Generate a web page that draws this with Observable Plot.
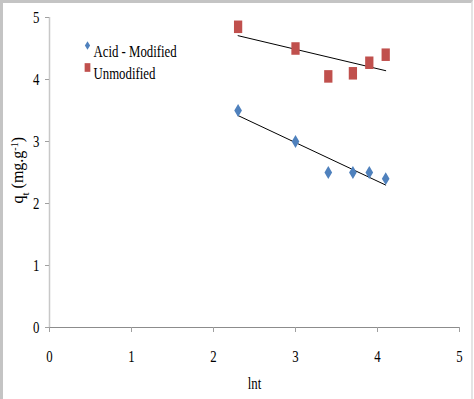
<!DOCTYPE html>
<html>
<head>
<meta charset="utf-8">
<script src="https://cdn.jsdelivr.net/npm/d3@7"></script>
<script src="https://cdn.jsdelivr.net/npm/@observablehq/plot@0.6"></script>
<style>
  html, body { margin: 0; padding: 0; background: #fff; }
  #wrap { position: relative; width: 474px; height: 399px; overflow: hidden; }
  #edge { position: absolute; left: 0; top: 0; width: 473px; height: 399px;
          border-top: 3px solid #c4c4c4; border-left: 3px solid #c4c4c4; border-right: 2px solid #e4e4e4;
          box-sizing: border-box; pointer-events: none; }
  svg, svg text { font-family: "Times New Roman", "Liberation Serif", "DejaVu Serif", serif !important; }
</style>
</head>
<body>
<div id="wrap"><div id="edge"></div></div>
<script>
const lnt = [2.3, 3.0, 3.4, 3.7, 3.9, 4.1];
const acidModified = [3.5, 3.0, 2.5, 2.5, 2.5, 2.4];
const unmodified = [4.85, 4.5, 4.05, 4.1, 4.27, 4.4];
const seriesNames = ["Acid - Modified", "Unmodified"];
const seriesColors = ["#4F81BD", "#C0504D"];
const xTicks = [0, 1, 2, 3, 4, 5];
const yTicks = [0, 1, 2, 3, 4, 5];
const xLabel = "lnt";
const yLabel = "qt (mg.g-1)";

const acidData = lnt.map((x, i) => ({x, y: acidModified[i]}));
const unmodData = lnt.map((x, i) => ({x, y: unmodified[i]}));

// tall diamond and tall rectangle markers (as in the reference)
const tallDiamond = {draw(ctx, size) {
  const h = Math.sqrt(size) * 0.72, w = h * 0.6;
  ctx.moveTo(0, -h); ctx.lineTo(w, 0); ctx.lineTo(0, h); ctx.lineTo(-w, 0); ctx.closePath();
}};
const tallRect = {draw(ctx, size) {
  const h = Math.sqrt(size) * 0.68, w = h * 0.66;
  ctx.rect(-w, -h, 2 * w, 2 * h);
}};

const serif = "'Times New Roman', 'Liberation Serif', serif";

const plot = Plot.plot({
  width: 474,
  height: 399,
  marginLeft: 49,
  marginRight: 15,
  marginTop: 17,
  marginBottom: 72,
  style: {background: "transparent", fontSize: "16px", fontFamily: serif, color: "#000"},
  x: {domain: [0, 5], label: null},
  y: {domain: [0, 5], label: null},
  marks: [
    Plot.ruleX([0], {stroke: "#c8c8c8", strokeWidth: 1.5}),
    Plot.ruleY([0], {stroke: "#8c8c8c", strokeWidth: 1}),
    Plot.axisX({ticks: xTicks, tickSize: 5, tickPadding: 18, stroke: "#a0a0a0", fill: "#000", fontSize: 16, label: null, tickFormat: d => String(d), className: "squeeze"}),
    Plot.axisY({ticks: yTicks, tickSize: 4, stroke: "#a0a0a0", tickPadding: 6, fontSize: 16, fill: "#000", label: null, tickFormat: d => String(d), className: "squeeze"}),
    Plot.linearRegressionY(unmodData, {x: "x", y: "y", stroke: "#000", strokeWidth: 1, ci: 0}),
    Plot.linearRegressionY(acidData, {x: "x", y: "y", stroke: "#000", strokeWidth: 1, ci: 0}),
    Plot.dot(unmodData, {x: "x", y: "y", symbol: tallRect, r: 5.2, fill: seriesColors[1], stroke: "none"}),
    Plot.dot(acidData, {x: "x", y: "y", symbol: tallDiamond, r: 5, fill: seriesColors[0], stroke: "none"}),
    // legend
    Plot.dot([seriesNames[0]], {frameAnchor: "top-left", dx: 38, dy: 28, symbol: tallDiamond, r: 3.4, fill: seriesColors[0], stroke: "none"}),
    Plot.dot([seriesNames[1]], {frameAnchor: "top-left", dx: 38, dy: 50, symbol: tallRect, r: 3.6, fill: seriesColors[1], stroke: "none"}),
    Plot.text([seriesNames[0]], {frameAnchor: "top-left", dx: 44, dy: 28, text: d => d, textAnchor: "start", fontSize: 16, fill: "#000", className: "squeeze"}),
    Plot.text([seriesNames[1]], {frameAnchor: "top-left", dx: 44, dy: 50, text: d => d, textAnchor: "start", fontSize: 16, fill: "#000", className: "squeeze"}),
    // axis titles
    Plot.text([xLabel], {frameAnchor: "bottom", dy: 61, text: d => d, fontSize: 16, fill: "#000", className: "squeeze"}),
    Plot.text([yLabel], {frameAnchor: "left", dx: -32, dy: 31, rotate: -90, text: d => d, fontSize: 16, fill: "#000", className: "ylab"})
  ]
});

document.getElementById("wrap").appendChild(plot);

// subscript / superscript in y label
const t = d3.select(plot).select(".ylab text");
if (!t.empty()) {
  t.text(null);
  t.append("tspan").text("q");
  t.append("tspan").attr("font-size", 11).attr("baseline-shift", "sub").text("t");
  t.append("tspan").text(" (mg.g");
  t.append("tspan").attr("font-size", 10).attr("baseline-shift", "super").text("-1");
  t.append("tspan").text(")");
}

// the reference's horizontal lettering is condensed (the image was squeezed sideways)
d3.select(plot).selectAll(".squeeze text, text.squeeze").each(function() {
  const len = this.getComputedTextLength();
  if (len > 0) {
    this.setAttribute("textLength", (len * 0.8).toFixed(1));
    this.setAttribute("lengthAdjust", "spacingAndGlyphs");
  }
});
</script>
</body>
</html>
